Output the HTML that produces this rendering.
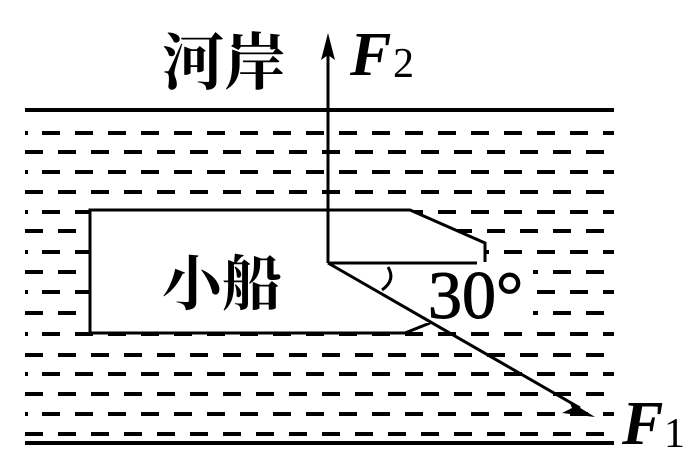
<!DOCTYPE html>
<html><head><style>body{margin:0;background:#fff}svg{display:block}</style></head>
<body>
<svg width="696" height="471" viewBox="0 0 696 471" xmlns="http://www.w3.org/2000/svg">
<rect width="696" height="471" fill="#fff"/>
<g stroke="#000" stroke-width="4">
<line x1="25" y1="110" x2="614" y2="110"/>
<line x1="25" y1="443" x2="614" y2="443"/>
</g>
<g stroke="#000" stroke-width="4">
<path d="M25 133h3M25 172h3M25 212h3M25 252h3M25 292h3M25 334h3M25 374h3M25 414h3"/>
<path stroke-dasharray="18 15" d="M42 133H614M42 172H614M42 212H614M42 252H614M42 292H614M42 334H614M42 374H614M42 414H614"/>
<path stroke-dasharray="18 15" d="M25 152H606M25 192H606M25 231H606M25 272H606M25 313H606M25 355H606M25 394H606M25 434H606"/>
</g>
<path d="M90 210H410L485 243V262H470L430 300V323L405 333H90Z" fill="#fff" stroke="none"/>
<path d="M90 333V210H410L485 243V262 M90 333H405L430 323" fill="none" stroke="#000" stroke-width="3"/>
<rect x="425" y="265" width="108" height="58" fill="#fff"/>
<rect x="160" y="28" width="135" height="68" fill="#fff"/>
<g stroke="#000" stroke-width="3" fill="none">
<line x1="328" y1="263" x2="328" y2="50"/>
<line x1="328" y1="263" x2="477" y2="263"/>
<line x1="328" y1="263" x2="580" y2="408"/>
<path d="M388 267 Q396 280 382 290"/>
</g>
<path d="M328 33 L321 60 L328 55 L335 60Z" fill="#000"/>
<path d="M595 417 L569 401 L572 408 L562 413Z" fill="#000"/>
<g font-family="Liberation Serif, 'Noto Serif CJK SC', serif" fill="#000">
<text x="162" y="84" font-size="62" font-weight="bold" font-family="'Noto Serif CJK SC', serif">河岸</text>
<text x="162" y="305" font-size="60" font-weight="bold" font-family="'Noto Serif CJK SC', serif">小船</text>
<text x="428" y="318" font-size="68" stroke="#000" stroke-width="1">30°</text>
<text x="350" y="75" font-size="62" font-style="italic" font-weight="bold">F</text>
<text x="393" y="77" font-size="42">2</text>
<text x="622" y="444" font-size="62" font-style="italic" font-weight="bold">F</text>
<text x="664" y="447" font-size="42">1</text>
</g>
</svg>
</body></html>
